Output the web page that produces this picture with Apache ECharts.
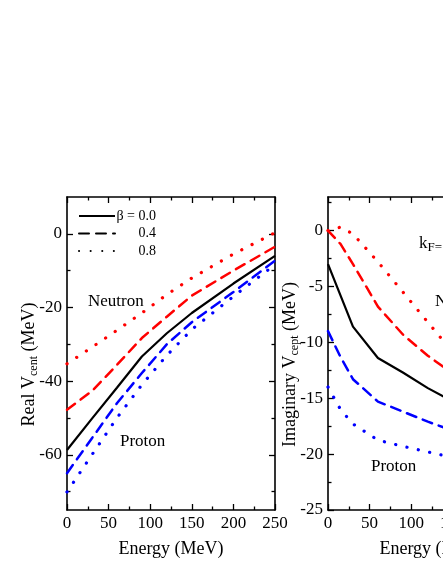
<!DOCTYPE html>
<html><head><meta charset="utf-8">
<script src="https://cdn.jsdelivr.net/npm/echarts@6/dist/echarts.min.js"></script>
<style>html,body{margin:0;padding:0;background:#fff}#c{width:443px;height:573px}</style>
</head><body><div id="c"></div>
<script>
// ---- data ----
const energyReal = [0, 30, 60, 90, 120, 150, 200, 250];
const realBeta00 = [-58.7, -50.2, -41.8, -33.3, -27.0, -21.5, -13.5, -6.0];
const realNeutron04 = [-47.8, -42.7, -35.6, -28.3, -22.5, -16.8, -10.0, -3.5];
const realNeutron08 = [-35.3, -30.8, -26.2, -21.5, -16.5, -12.0, -5.5, 0.3];
const realProton04 = [-65.0, -55.5, -46.0, -37.8, -30.0, -24.0, -15.8, -7.3];
const realProton08 = [-70.1, -60.0, -50.0, -41.0, -33.0, -26.0, -17.0, -8.4];

const energyImag = [0, 15, 30, 60, 90, 120, 150];
const imagBeta00 = [-3.0, -5.8, -8.6, -11.4, -12.7, -14.1, -15.3];
const imagNeutron04 = [0.0, -1.2, -3.0, -6.8, -9.3, -11.2, -12.8];
const imagNeutron08 = [0.0, 0.3, -0.3, -2.8, -5.5, -8.2, -10.9];
const imagProton04 = [-9.0, -11.3, -13.3, -15.3, -16.2, -17.1, -17.9];
const imagProton08 = [-14.0, -16.0, -17.3, -18.75, -19.3, -19.8, -20.3];

const energyTicks = [0, 50, 100, 150, 200, 250];
const energyMinor = [25, 75, 125, 175, 225];
const realTicks = [-60, -40, -20, 0];
const realMinor = [-70, -50, -30, -10];
const imagTicks = [-25, -20, -15, -10, -5, 0];
const imagMinor = [-22.5, -17.5, -12.5, -7.5, -2.5, 2.5];

const legendNames = ['β = 0.0', '0.4', '0.8'];

// ---- styles ----
const FONT = 'Liberation Serif';
const RED = '#ff0000', BLUE = '#0000ff', BLACK = '#000000';
const DASH = [10, 7];
const DOT = [0.1, 11.5];

function pairs(xs, ys) { return xs.map((x, i) => [x, ys[i]]); }

const titleRich = {
  m: { fontSize: 18, fontFamily: FONT, color: '#000', lineHeight: 22 },
  s: { fontSize: 12, fontFamily: FONT, color: '#000', lineHeight: 12, verticalAlign: 'bottom' }
};

function axis(o) {
  return {
    type: 'value', gridIndex: o.grid, position: o.pos, min: o.min, max: o.max,
    name: o.name || '', nameLocation: 'middle', nameGap: o.nameGap || 0, nameMoveOverlap: false,
    nameTextStyle: { fontFamily: FONT, fontSize: 18, color: '#000', rich: titleRich, padding: o.namePad || 0 },
    axisLine: { show: !!o.line, onZero: false, lineStyle: { color: '#000', width: 1.6 } },
    axisTick: { show: true, inside: true, length: o.len, customValues: o.ticks, lineStyle: { color: '#000', width: 1.3 } },
    axisLabel: { show: !!o.labels, customValues: o.ticks, margin: o.margin || 5, color: '#000', fontFamily: FONT, fontSize: 17 },
    splitLine: { show: false }, minorTick: { show: false }, minorSplitLine: { show: false },
    axisPointer: { show: false }
  };
}

function gridAxes(g, xDef, yDef) {
  const xs = [
    axis({ grid: g, pos: 'bottom', min: xDef.min, max: xDef.max, ticks: xDef.ticks, len: 6, line: true, labels: true, margin: 5, name: xDef.name, nameGap: 30 }),
    axis({ grid: g, pos: 'bottom', min: xDef.min, max: xDef.max, ticks: xDef.minor, len: 3.5 }),
    axis({ grid: g, pos: 'top', min: xDef.min, max: xDef.max, ticks: xDef.ticks, len: 6, line: true }),
    axis({ grid: g, pos: 'top', min: xDef.min, max: xDef.max, ticks: xDef.minor, len: 3.5 })
  ];
  const ys = [
    axis({ grid: g, pos: 'left', min: yDef.min, max: yDef.max, ticks: yDef.ticks, len: 6, line: true, labels: true, margin: 5, name: yDef.name, nameGap: yDef.nameGap, namePad: [0, 22, 0, 0] }),
    axis({ grid: g, pos: 'left', min: yDef.min, max: yDef.max, ticks: yDef.minor, len: 3.5 }),
    axis({ grid: g, pos: 'right', min: yDef.min, max: yDef.max, ticks: yDef.ticks, len: 6, line: true }),
    axis({ grid: g, pos: 'right', min: yDef.min, max: yDef.max, ticks: yDef.minor, len: 3.5 })
  ];
  return { xs, ys };
}

const left = gridAxes(0,
  { min: 0, max: 250, ticks: energyTicks, minor: energyMinor, name: 'Energy (MeV)' },
  { min: -75, max: 10, ticks: realTicks, minor: realMinor, name: '{m|Real V}{s|cent}{m| (MeV)}', nameGap: 27 });
const right = gridAxes(1,
  { min: 0, max: 250, ticks: energyTicks, minor: energyMinor, name: 'Energy (MeV)' },
  { min: -25, max: 3, ticks: imagTicks, minor: imagMinor, name: '{m|Imaginary V}{s|cept}{m| (MeV)}', nameGap: 27 });

function line(name, xi, yi, data, color, type, width) {
  const ls = { color: color, width: width, type: type };
  if (Array.isArray(type)) ls.cap = 'round';
  return {
    type: 'line', name: name, xAxisIndex: xi, yAxisIndex: yi, data: data,
    symbol: 'none', showSymbol: false, smooth: false, animation: false,
    itemStyle: { color: color }, lineStyle: ls, z: 3
  };
}

const series = [
  line(legendNames[0], 0, 0, pairs(energyReal, realBeta00), BLACK, 'solid', 2.2),
  line(legendNames[1], 0, 0, [], BLACK, DASH, 2.5),
  line(legendNames[2], 0, 0, [], BLACK, DOT, 3.2),
  line('Neutron 0.4', 0, 0, pairs(energyReal, realNeutron04), RED, DASH, 2.5),
  line('Neutron 0.8', 0, 0, pairs(energyReal, realNeutron08), RED, DOT, 3.2),
  line('Proton 0.4', 0, 0, pairs(energyReal, realProton04), BLUE, DASH, 2.5),
  line('Proton 0.8', 0, 0, pairs(energyReal, realProton08), BLUE, DOT, 3.2),
  line(legendNames[0], 4, 4, pairs(energyImag, imagBeta00), BLACK, 'solid', 2.2),
  line('Neutron 0.4 im', 4, 4, pairs(energyImag, imagNeutron04), RED, DASH, 2.5),
  line('Neutron 0.8 im', 4, 4, pairs(energyImag, imagNeutron08), RED, DOT, 3.2),
  line('Proton 0.4 im', 4, 4, pairs(energyImag, imagProton04), BLUE, DASH, 2.5),
  line('Proton 0.8 im', 4, 4, pairs(energyImag, imagProton08), BLUE, DOT, 3.2)
];

function label(text, x, y, rich) {
  return { type: 'text', x: x, y: y, z: 10,
    style: { text: text, fill: '#000', font: '17px "' + FONT + '"', verticalAlign: 'middle', align: 'left', rich: rich } };
}
const subRich = {
  m: { fontSize: 17, fontFamily: FONT, color: '#000', lineHeight: 20 },
  s: { fontSize: 13, fontFamily: FONT, color: '#000', lineHeight: 13, verticalAlign: 'bottom' }
};

const chart = echarts.init(document.getElementById('c'), null, { renderer: 'canvas' });
chart.setOption({
  animation: false,
  backgroundColor: '#ffffff',
  grid: [
    { left: 67, top: 197, width: 208, height: 313, containLabel: false, outerBoundsMode: 'none' },
    { left: 328, top: 197, width: 208, height: 313, containLabel: false, outerBoundsMode: 'none' }
  ],
  xAxis: left.xs.concat(right.xs),
  yAxis: left.ys.concat(right.ys),
  legend: {
    data: legendNames, orient: 'vertical', left: 78, top: 209, padding: 0,
    itemWidth: 36, itemHeight: 14, itemGap: 3.5, selectedMode: false,
    itemStyle: { opacity: 0 },
    textStyle: { fontFamily: FONT, fontSize: 14, color: '#000', lineHeight: 14,
      rich: { v: { width: 36, align: 'right', fontFamily: FONT, fontSize: 14, color: '#000' } } },
    formatter: function (n) { return '{v|' + n + '}'; }
  },
  graphic: [
    label('Neutron', 88, 302),
    label('Proton', 120, 442),
    label('{m|k}{s|F=}', 419, 244, subRich),
    label('Neutron', 435, 302),
    label('Proton', 371, 467)
  ],
  series: series
});
</script></body></html>
